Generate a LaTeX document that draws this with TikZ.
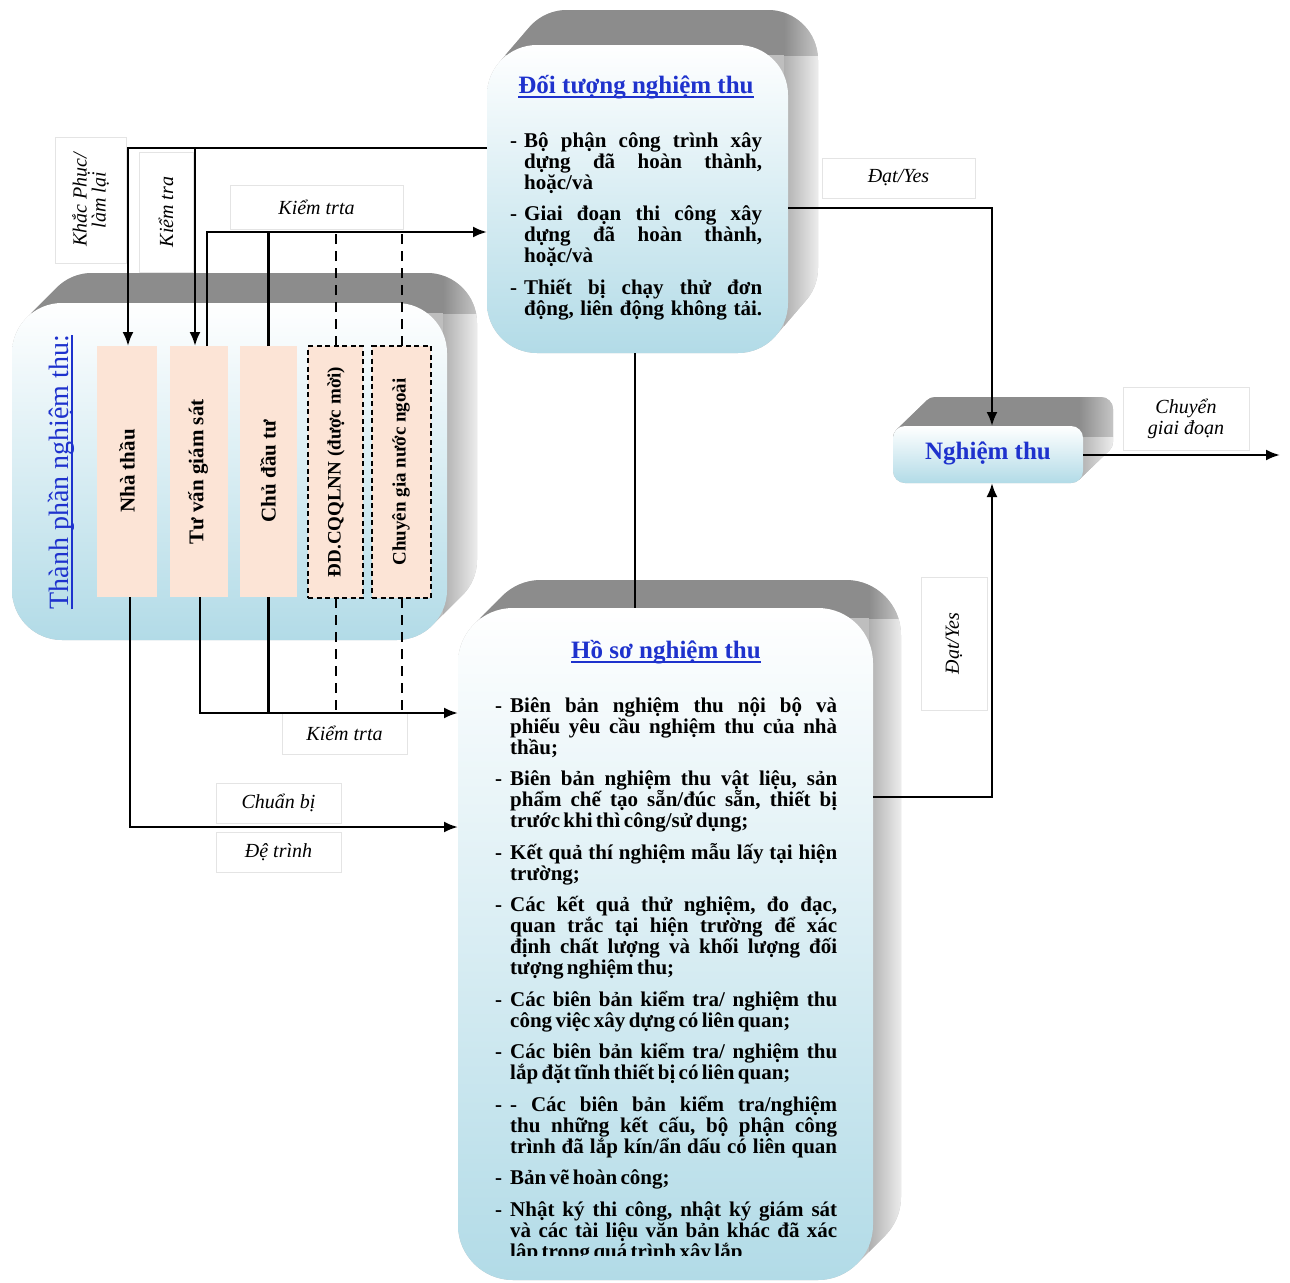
\documentclass[tikz,border=0pt]{standalone}
\usepackage{fontspec}
\setmainfont{Liberation Serif}
\usetikzlibrary{arrows.meta}
\definecolor{ttl}{RGB}{30,50,205}
\definecolor{faceB}{RGB}{178,219,231}
\definecolor{pinkF}{RGB}{252,228,214}
\definecolor{extD}{RGB}{140,140,140}
\definecolor{extM}{RGB}{190,190,190}
\definecolor{extL}{RGB}{238,238,238}
\definecolor{labB}{RGB}{228,228,228}
\newlength\hangw
\newlength\lw
\newcommand\SP{\spaceskip=.16em plus 1fil minus .08em\relax}
\newcommand\myul[1]{\leavevmode\setbox0\hbox{#1}\rlap{\rule[-4.5pt]{\wd0}{1.6pt}}\box0}
\newcommand\Dj[1]{\hbox to\lw{\SP\hbox to\hangw{-\hfil}#1}}
\newcommand\Dl[1]{\hbox to\lw{\SP\hbox to\hangw{-\hfil}#1\hfill}}
\newcommand\Cj[1]{\hbox to\lw{\SP\hskip\hangw\relax #1}}
\newcommand\Cl[1]{\hbox to\lw{\SP\hskip\hangw\relax #1\hfill}}
\newcommand\Gap{\vskip10.5pt}
% extrusion: x1 y1 x2 y2 radius dx dy
\newcommand\extr[7]{%
  \begin{scope}
    \clip[rounded corners=#5pt] \foreach \k in {0,...,24}{({#1+\k*#6/24},{#2-\k*#7/24}) rectangle ({#3+\k*#6/24},{#4-\k*#7/24})};
    \fill[extM] (#1-5,#2-#7-5) rectangle (#3+#6+5,#4+5);
    \shade[left color=extM!70!extD, right color=extL] (#3-4,#2+10) rectangle (#3+#6+1,#4+5);
    \shade[left color=extD, right color=extL!60!extD] (#3-4,#2-#7-5) rectangle (#3+#6+1,#2+10);
    \fill[extD] (#1-5,#2-#7-5) rectangle (#3-4,#2+10);
  \end{scope}}
\begin{document}
\begin{tikzpicture}[x=1pt,y=-1pt,
  face/.style={inner sep=0pt, outer sep=0pt, top color=white, bottom color=faceB, draw=none},
  pinkbox/.style={fill=pinkF, inner sep=0pt, outer sep=0pt},
  dashbox/.style={draw=black, line width=1.6pt, dash pattern=on 5pt off 3.5pt},
  vtext/.style={rotate=90, font=\fontsize{21}{21}\selectfont\bfseries, inner sep=0pt},
  ttlstyle/.style={font=\fontsize{25}{25}\selectfont\bfseries, text=ttl, inner sep=0pt},
  lab/.style={draw=labB, line width=0.6pt, fill=white, inner sep=0pt, align=center, font=\fontsize{20}{20}\selectfont\itshape},
  body/.style={inner sep=0pt, anchor=base west, font={\fontsize{21}{21}\selectfont\bfseries\frenchspacing}},
  conn/.style={line width=2.4pt},
  arr/.style={conn, -{Latex[length=14pt,width=11pt]}},
  dconn/.style={line width=2pt, dash pattern=on 10pt off 7pt}]
\useasboundingbox (0,0) rectangle (1290,1282);

% 3D extrusions
\extr{487}{45}{788}{353}{50}{30}{35}
\extr{12}{303}{447}{640}{50}{30}{30}
\extr{893}{426}{1083}{483}{12}{30}{29}
\extr{458}{608}{873}{1280}{55}{28}{28}

% front faces
\node[face, rounded corners=50pt, minimum width=301pt, minimum height=308pt] (obj) at (637.5,199) {};
\node[face, rounded corners=50pt, minimum width=435pt, minimum height=337pt] (tp) at (229.5,471.5) {};
\node[face, rounded corners=12pt, minimum width=190pt, minimum height=57pt] (ngt) at (988,454.5) {};
\node[face, rounded corners=55pt, minimum width=415pt, minimum height=672pt] (hs) at (665.5,944) {};

% members
\node[pinkbox, minimum width=60pt, minimum height=251pt] (nt) at (127,471.5) {};
\node[pinkbox, minimum width=58pt, minimum height=251pt] (tv) at (199,471.5) {};
\node[pinkbox, minimum width=57pt, minimum height=251pt] (cdt) at (268.5,471.5) {};
\node[pinkbox, dashbox, minimum width=55pt, minimum height=252pt] (dd) at (335.5,472) {};
\node[pinkbox, dashbox, minimum width=59pt, minimum height=252pt] (cg) at (401.5,472) {};

% labels
\node[lab, rotate=90, minimum width=126pt, minimum height=71pt, font=\fontsize{20}{19}\selectfont\itshape] (l1) at (90.5,200) {Khắc Phục/\\làm lại};
\node[lab, rotate=90, minimum width=120pt, minimum height=54pt] (l2) at (166,212) {Kiểm tra};
\node[lab, minimum width=173pt, minimum height=44pt] (l3) at (316.5,207) {Kiểm trta};
\node[lab, minimum width=153pt, minimum height=40pt] (l4) at (898.5,178) {Đạt/Yes};
\node[lab, minimum width=126pt, minimum height=63pt, font=\fontsize{20}{21}\selectfont\itshape] (l5) at (1186,418.5) {Chuyển\\giai đoạn};
\node[lab, rotate=90, minimum width=133pt, minimum height=66pt] (l6) at (954,643.5) {Đạt/Yes};
\node[lab, minimum width=125pt, minimum height=41pt] (l7) at (344.5,733.5) {Kiểm trta};
\node[lab, minimum width=125pt, minimum height=40pt] (l8) at (278.5,803) {Chuẩn bị};
\node[lab, minimum width=125pt, minimum height=40pt] (l9) at (278.5,852) {Đệ trình};

% connectors
\coordinate (k1) at (128,148);
\coordinate (k2) at (195,148);
\coordinate (k3) at (207,232);
\coordinate (k4) at (635,400);
\coordinate (k5) at (992,208);
\coordinate (k6) at (1280,455);
\coordinate (k7) at (992,797);
\coordinate (k8) at (200,713);
\coordinate (k9) at (130,827);
\draw[arr] (obj.west |- k1) -- (k1) -- (k1 |- nt.north);
\draw[arr] (k2) -- (k2 |- tv.north);
\draw[arr] (k3 |- tv.north) -- (k3) -- (obj.west |- k3);
\draw[conn] (cdt.north) -- (cdt.north |- k3);
\draw[dconn] (dd.north) -- (dd.north |- k3);
\draw[dconn] (cg.north) -- (cg.north |- k3);
\draw[conn] (k4 |- obj.south) -- (k4 |- hs.north);
\draw[arr] (obj.east |- k5) -- (k5) -- (k5 |- ngt.north);
\draw[arr] (ngt.east |- k6) -- (k6);
\draw[arr] (hs.east |- k7) -- (k7) -- (k7 |- ngt.south);
\draw[arr] (k8 |- tv.south) -- (k8) -- (hs.west |- k8);
\draw[conn] (cdt.south) -- (cdt.south |- k8);
\draw[dconn] (dd.south) -- (dd.south |- k8);
\draw[dconn] (cg.south) -- (cg.south |- k8);
\draw[arr] (k9 |- nt.south) -- (k9) -- (hs.west |- k9);

% texts
\node[rotate=90, font=\fontsize{28}{28}\selectfont, text=ttl, inner sep=0pt] (tpT) at (61,472) {\myul{Thành phần nghiệm thu:}};
\node[vtext] (ntT) at (127,471) {Nhà thầu};
\node[vtext] (tvT) at (198,472) {Tư vấn giám sát};
\node[vtext] (cdtT) at (268,471) {Chủ đầu tư};
\node[vtext, font=\fontsize{19}{19}\selectfont\bfseries] (ddT) at (336,472) {ĐD.CQQLNN (được mời)};
\node[vtext, font=\fontsize{19}{19}\selectfont\bfseries] (cgT) at (401,472) {Chuyên gia nước ngoài};

\node[ttlstyle] (objT) at (636,87) {\myul{Đối tượng nghiệm thu}};
\node[ttlstyle] (hsT) at (666,652) {\myul{Hồ sơ nghiệm thu}};
\node[ttlstyle] (ngtT) at (988,453) {Nghiệm thu};

\node[body, text width=252pt] (objB) at (510,147) {\hangw=14pt\lw=252pt
\Dj{Bộ phận công trình xây}
\Cj{dựng đã hoàn thành,}
\Cl{hoặc/và}
\Gap
\Dj{Giai đoạn thi công xây}
\Cj{dựng đã hoàn thành,}
\Cl{hoặc/và}
\Gap
\Dj{Thiết bị chạy thử đơn}
\Cj{động, liên động không tải.}
};

\begin{scope}
\clip (0,0) rectangle (1290,1255);
\node[body, text width=342pt] (hsB) at (495,712) {\hangw=15pt\lw=342pt
\Dj{Biên bản nghiệm thu nội bộ và}
\Cj{phiếu yêu cầu nghiệm thu của nhà}
\Cl{thầu;}
\Gap
\Dj{Biên bản nghiệm thu vật liệu, sản}
\Cj{phẩm chế tạo sẵn/đúc sẵn, thiết bị}
\Cl{trước khi thì công/sử dụng;}
\Gap
\Dj{Kết quả thí nghiệm mẫu lấy tại hiện}
\Cl{trường;}
\Gap
\Dj{Các kết quả thử nghiệm, đo đạc,}
\Cj{quan trắc tại hiện trường để xác}
\Cj{định chất lượng và khối lượng đối}
\Cl{tượng nghiệm thu;}
\Gap
\Dj{Các biên bản kiểm tra/ nghiệm thu}
\Cl{công việc xây dựng có liên quan;}
\Gap
\Dj{Các biên bản kiểm tra/ nghiệm thu}
\Cl{lắp đặt tĩnh thiết bị có liên quan;}
\Gap
\Dj{- Các biên bản kiểm tra/nghiệm}
\Cj{thu những kết cấu, bộ phận công}
\Cj{trình đã lắp kín/ẩn dấu có liên quan}
\Gap
\Dl{Bản vẽ hoàn công;}
\Gap
\Dj{Nhật ký thi công, nhật ký giám sát}
\Cj{và các tài liệu văn bản khác đã xác}
\Cl{lập trong quá trình xây lắp}
};
\end{scope}
\end{tikzpicture}
\end{document}
